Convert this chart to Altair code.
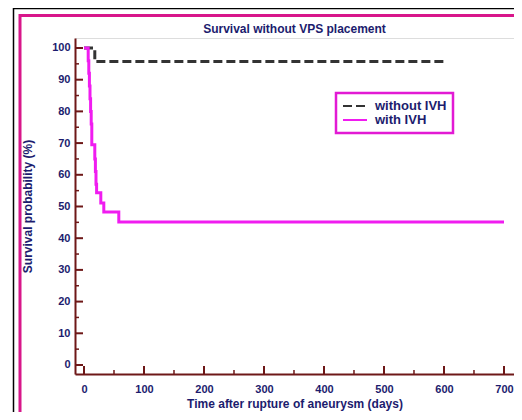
import altair as alt
import pandas as pd

# ---- data ----
ivh_days = [0, 6, 7, 8, 9, 10, 11, 12, 13, 17, 18, 19, 20, 21, 28, 33, 58, 700]
ivh_surv = [100, 100, 96, 92, 88, 84, 80, 76, 69.5, 69.5, 65, 61, 57, 54.3, 51.1, 48.3, 45.1, 45.1]
noivh_days = [0, 18, 600]
noivh_surv = [100, 95.7, 95.7]
series_names = ["without IVH", "with IVH"]

x_major = [0, 100, 200, 300, 400, 500, 600, 700]
x_minor = [50, 150, 250, 350, 450, 550, 650]
y_major = [0, 10, 20, 30, 40, 50, 60, 70, 80, 90, 100]
y_minor = [5, 15, 25, 35, 45, 55, 65, 75, 85, 95]

NAVY = "#1c1c6e"
AXC = "#6e1818"
MAG = "#f01cf0"
FRAME = "#d8168a"
FONT = "Liberation Sans"
XTITLE = "Time after rupture of aneurysm (days)"
YTITLE = "Survival probability (%)"

W, H = 439, 336

df = pd.DataFrame(
    {"day": noivh_days + ivh_days,
     "surv": noivh_surv + ivh_surv,
     "series": [series_names[0]] * len(noivh_days) + [series_names[1]] * len(ivh_days)}
)

xs = alt.Scale(domain=[-15.0, 716.7], nice=False, zero=False)
ys = alt.Scale(domain=[-2.84, 103.15], nice=False, zero=False)

xaxis = alt.Axis(values=x_major, ticks=False, domainColor=AXC, domainWidth=2,
                 labelFont=FONT, labelFontWeight="bold", labelFontSize=11,
                 labelColor=NAVY, labelPadding=9, grid=False,
                 titleFont=FONT, titleFontWeight="bold", titleFontSize=12,
                 titleColor=NAVY, titlePadding=4)
yaxis = alt.Axis(values=y_major, ticks=False, domainColor=AXC, domainWidth=2,
                 labelFont=FONT, labelFontWeight="bold", labelFontSize=11,
                 labelColor=NAVY, labelPadding=5, grid=False,
                 titleFont=FONT, titleFontWeight="bold", titleFontSize=12,
                 titleColor=NAVY, titlePadding=17)

legend = alt.Legend(
    title=None, orient="none", legendX=261, legendY=55,
    symbolType="M-1,0H3", symbolSize=144, symbolStrokeWidth=2,
    labelFont=FONT, labelFontWeight="bold", labelFontSize=13, labelColor=NAVY,
    strokeColor="#e21ad4", padding=6, rowPadding=0, labelOffset=19,
)

lines = alt.Chart(df).mark_line(interpolate="step-after", strokeWidth=3).encode(
    x=alt.X("day:Q", scale=xs, title=XTITLE, axis=xaxis),
    y=alt.Y("surv:Q", scale=ys, title=YTITLE, axis=yaxis),
    color=alt.Color("series:N", scale=alt.Scale(domain=series_names, range=["#333333", MAG]),
                    legend=legend),
    strokeDash=alt.StrokeDash("series:N", scale=alt.Scale(domain=series_names, range=[[9, 4], [1, 0]]),
                              legend=legend),
    order=alt.Order("day:Q"),
)

xt_maj = alt.Chart(pd.DataFrame({"v": x_major})).mark_rule(color=AXC, strokeWidth=2).encode(
    x=alt.X("v:Q", scale=xs, title=XTITLE, axis=xaxis), y=alt.value(H), y2=alt.value(H - 8))
xt_min = alt.Chart(pd.DataFrame({"v": x_minor})).mark_rule(color=AXC, strokeWidth=1.5).encode(
    x=alt.X("v:Q", scale=xs, title=XTITLE, axis=xaxis), y=alt.value(H), y2=alt.value(H - 4))
yt_maj = alt.Chart(pd.DataFrame({"v": y_major})).mark_rule(color=AXC, strokeWidth=2).encode(
    y=alt.Y("v:Q", scale=ys, title=YTITLE, axis=yaxis), x=alt.value(0), x2=alt.value(8))
yt_min = alt.Chart(pd.DataFrame({"v": y_minor})).mark_rule(color=AXC, strokeWidth=1.5).encode(
    y=alt.Y("v:Q", scale=ys, title=YTITLE, axis=yaxis), x=alt.value(0), x2=alt.value(4))

one = pd.DataFrame({"a": [0]})
frame_pink = alt.Chart(one).mark_rect(fill=None, stroke=FRAME, strokeWidth=3).encode(
    x=alt.value(-55), x2=alt.value(700), y=alt.value(-22.5), y2=alt.value(600))
frame_black = alt.Chart(one).mark_rect(fill=None, stroke="#000000", strokeWidth=1.5).encode(
    x=alt.value(-61.5), x2=alt.value(700), y=alt.value(-29.5), y2=alt.value(600))

chart = alt.layer(frame_black, frame_pink, xt_maj, xt_min, yt_maj, yt_min, lines).properties(
    width=W, height=H,
    autosize=alt.AutoSizeParams(type="none"),
    padding={"left": 67, "top": 30, "right": 0, "bottom": 38},
    title=alt.Title("Survival without VPS placement", font=FONT, fontWeight="bold",
                    fontSize=12, color=NAVY, anchor="middle", offset=-28),
).configure_view(strokeWidth=0).configure(background="white").configure_legend(strokeWidth=2.5)

chart.save("out.html", embed_options={"renderer": "svg", "actions": False})
